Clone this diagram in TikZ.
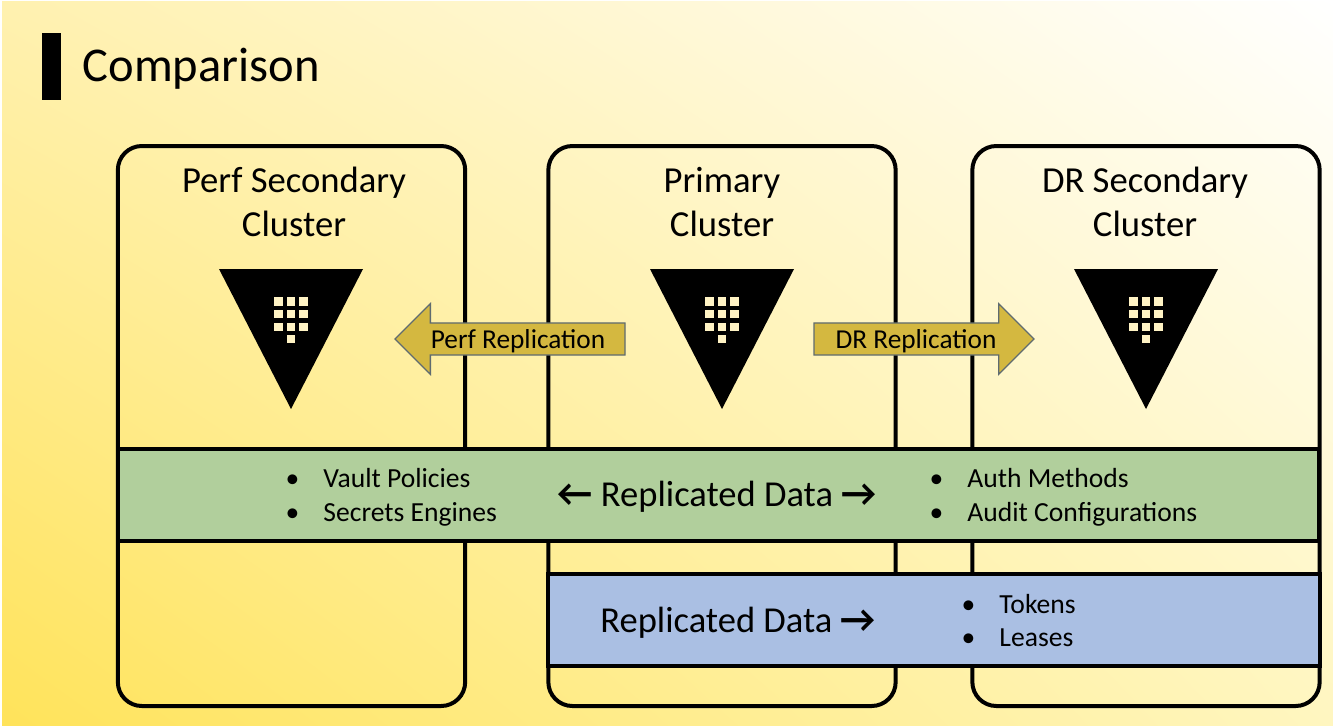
\documentclass[tikz,border=0pt]{standalone}
\usepackage{fontspec}
\setmainfont{Carlito}
\usetikzlibrary{shapes.arrows,shadings}
\definecolor{bgdark}{HTML}{FFE35A}
\definecolor{bgmid}{HTML}{FFF1B0}
\definecolor{bgright}{HTML}{FFF6C0}
\definecolor{arrowfill}{HTML}{D4B840}
\definecolor{arrowline}{HTML}{5F6B70}
\definecolor{bandgreen}{HTML}{B1CF9C}
\definecolor{bandblue}{HTML}{AABFE3}
\definecolor{vaultkey}{HTML}{FFF3C4}
\newcommand{\bandarrow}[1]{{\bfseries\fontsize{29}{30}\selectfont #1}}
\tikzset{
  cluster/.style={draw, line width=3pt, rounded corners=18pt, minimum width=260.5pt, minimum height=420pt},
  clustertitle/.style={align=center, font=\fontsize{27.5}{33}\selectfont},
  band/.style={draw, line width=3pt, anchor=west, outer sep=0pt, minimum height=69pt},
  replarrow/.style={single arrow, draw=arrowline, line width=1pt, fill=arrowfill, font=\fontsize{20.5}{24}\selectfont,
    text height=17.5pt, text depth=4pt, minimum width=53pt, single arrow head extend=13.5pt, single arrow head indent=0pt, inner sep=0pt, outer sep=0pt},
  bandtext/.style={font=\fontsize{27.4}{30}\selectfont},
  listtext/.style={align=left, font=\fontsize{20.7}{25.3}\selectfont},
  vault/.pic={
    \fill[black] (-72,-70) -- (72,-70) -- (0,70) -- cycle;
    \foreach \i in {-1,0,1}
      \foreach \j in {-1,0,1}
        \fill[vaultkey] (\i*12.6-4.2,\j*12.6-29) rectangle ++(8.4,8.4);
    \fill[vaultkey] (-4.2,-4.5) rectangle ++(8.4,8.4);
  }
}
\begin{document}
\begin{tikzpicture}[x=0.75pt, y=-0.75pt]
  \useasboundingbox (0,0) rectangle (1333,725);
  \shade[shading=bilinear interpolation, lower left=bgdark, upper left=bgmid, upper right=white, lower right=bgright] (2,1) rectangle (1333,725);
  % title
  \fill (42,33) rectangle (61,100);
  \node[anchor=west, font=\fontsize{36.4}{40}\selectfont] (title) at (78,69) {Comparison};
  % clusters
  \node[cluster] (perf) at (291.5,426) {};
  \node[cluster] (primary) at (722,426) {};
  \node[cluster] (dr) at (1146,426) {};
  \node[clustertitle] (perftitle) at (294,202) {Perf Secondary\\Cluster};
  \node[clustertitle] (primarytitle) at (722,202) {Primary\\Cluster};
  \node[clustertitle] (drtitle) at (1145,202) {DR Secondary\\Cluster};
  \pic at (291,339) {vault};
  \pic at (722,339) {vault};
  \pic at (1146,339) {vault};
  % replication arrows
  \node[replarrow, minimum height=172.5pt, shape border rotate=180, anchor=tip] (perfarrow) at (395,339) {Perf Replication};
  \node[replarrow, minimum height=165pt, anchor=tip] (drarrow) at (1034,339) {DR Replication};
  % replicated data
  \node[band, fill=bandgreen, minimum width=901pt] (green) at (118,495) {};
  \node[band, fill=bandblue, minimum width=578.5pt] (blue) at (548.3,620) {};
  \node[bandtext] (greenlabel) at (717,497) {\bandarrow{←} Replicated Data \bandarrow{→}};
  \node[bandtext] (bluelabel) at (738,623) {Replicated Data \bandarrow{→}};
  \node[listtext, anchor=west] (leftlist) at (281,497.5) {•\hspace{18pt}Vault Policies\\•\hspace{18pt}Secrets Engines};
  \node[listtext, anchor=west] (rightlist) at (925,497.5) {•\hspace{18pt}Auth Methods\\•\hspace{18pt}Audit Configurations};
  \node[listtext, anchor=west] (bluelist) at (957,620.5) {•\hspace{18pt}Tokens\\•\hspace{18pt}Leases};
\end{tikzpicture}
\end{document}
